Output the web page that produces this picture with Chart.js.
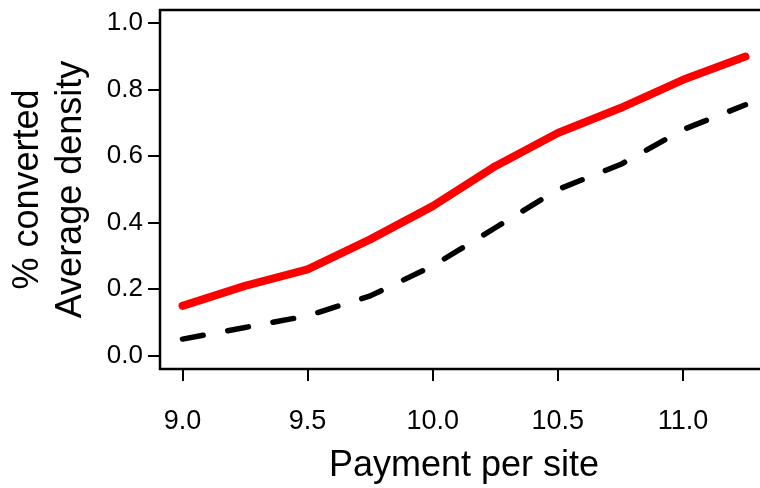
<!DOCTYPE html>
<html>
<head>
<meta charset="utf-8">
<script src="https://cdn.jsdelivr.net/npm/chart.js@4/dist/chart.umd.min.js"></script>
<style>
  html, body { margin: 0; padding: 0; background: #fff; overflow: hidden; }
  #wrap { width: 760px; height: 488px; overflow: hidden; position: relative; }
  canvas { display: block; }
</style>
</head>
<body>
<div id="wrap"><canvas id="c" width="768" height="488"></canvas></div>
<script>
// ---- data ----
const payment = [9.0, 9.25, 9.5, 9.75, 10.0, 10.25, 10.5, 10.75, 11.0, 11.25];
const pctConverted = [0.15, 0.21, 0.26, 0.35, 0.45, 0.57, 0.67, 0.745, 0.83, 0.90];
const avgDensity = [0.05, 0.085, 0.12, 0.18, 0.27, 0.385, 0.50, 0.575, 0.68, 0.755];
const xTicks = [9.0, 9.5, 10.0, 10.5, 11.0];
const yTicks = [0.0, 0.2, 0.4, 0.6, 0.8, 1.0];
const xTitle = 'Payment per site';
const yTitle = ['% converted', 'Average density'];

Chart.defaults.color = '#000';
Chart.defaults.font.family = '"Liberation Sans", Arial, Helvetica, sans-serif';

const toPts = (ys) => payment.map((x, i) => ({ x: x, y: ys[i] }));

const boxPlugin = {
  id: 'box',
  beforeDatasetsDraw(chart) {
    const a = chart.chartArea;
    const ctx = chart.ctx;
    ctx.save();
    ctx.strokeStyle = '#000';
    ctx.lineWidth = 2.5;
    ctx.strokeRect(a.left, a.top, a.right - a.left, a.bottom - a.top);
    ctx.restore();
  }
};

new Chart(document.getElementById('c'), {
  type: 'line',
  data: {
    datasets: [
      {
        label: '% converted',
        data: toPts(pctConverted),
        borderColor: '#ff0000',
        borderWidth: 8,
        borderCapStyle: 'round',
        borderJoinStyle: 'round',
        pointRadius: 0,
        tension: 0,
        fill: false
      },
      {
        label: 'Average density',
        data: toPts(avgDensity),
        borderColor: '#000000',
        borderWidth: 5.5,
        borderDash: [21, 25],
        borderCapStyle: 'round',
        borderJoinStyle: 'round',
        pointRadius: 0,
        tension: 0,
        fill: false
      }
    ]
  },
  options: {
    responsive: false,
    animation: false,
    layout: { padding: { top: 10, right: 0, bottom: 0, left: 0 } },
    plugins: { legend: { display: false }, tooltip: { enabled: false } },
    scales: {
      x: {
        type: 'linear',
        min: 8.91,
        max: 11.34,
        afterBuildTicks(scale) { scale.ticks = xTicks.map(v => ({ value: v })); },
        afterFit(scale) {
          scale.height = 119;
          scale.paddingLeft = 0; scale.paddingRight = 0;
        },
        grid: { drawOnChartArea: false, drawTicks: true, tickLength: 12, color: '#000', lineWidth: 2 },
        border: { display: false },
        ticks: {
          padding: 24,
          maxRotation: 0,
          autoSkip: false,
          font: { size: 27 },
          callback: (v) => Number(v).toFixed(1)
        },
        title: {
          display: true,
          text: xTitle,
          font: { size: 36, lineHeight: '42px' },
          padding: { top: 0, bottom: 1 }
        }
      },
      y: {
        type: 'linear',
        min: -0.04,
        max: 1.04,
        afterBuildTicks(scale) { scale.ticks = yTicks.map(v => ({ value: v })); },
        afterFit(scale) {
          scale.width = 160;
          scale.paddingTop = 0; scale.paddingBottom = 0;
        },
        grid: { drawOnChartArea: false, drawTicks: true, tickLength: 12, color: '#000', lineWidth: 2 },
        border: { display: false },
        ticks: {
          padding: 5,
          autoSkip: false,
          font: { size: 26 },
          callback: (v) => Number(v).toFixed(1)
        },
        title: {
          display: true,
          text: yTitle,
          font: { size: 36, lineHeight: '43px' },
          padding: { top: 7, bottom: 0 }
        }
      }
    }
  },
  plugins: [boxPlugin]
});
</script>
</body>
</html>
